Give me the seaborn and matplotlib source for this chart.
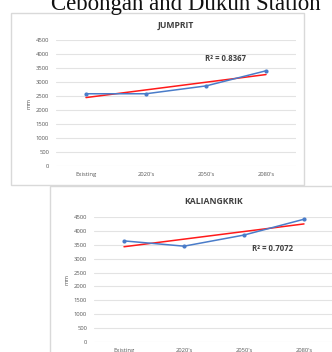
import numpy as np
import pandas as pd
import matplotlib
matplotlib.use("Agg")
import matplotlib.pyplot as plt
from matplotlib.patches import Rectangle
import seaborn as sns

# Annual rainfall (mm) per period at each station
periods = ["Existing", "2020's", "2050's", "2080's"]
jumprit_mm = [2580, 2580, 2860, 3400]
kaliangkrik_mm = [3640, 3450, 3850, 4420]
yticks = [0, 500, 1000, 1500, 2000, 2500, 3000, 3500, 4000, 4500]

W, H = 332, 352
sns.set_theme(style="white")
plt.rcParams["font.family"] = ["Open Sans", "DejaVu Sans"]

fig = plt.figure(figsize=(W / 100, H / 100), dpi=100)
fig.patch.set_facecolor("white")


def px_axes(x0, y0, x1, y1):
    """Axes from pixel box (top-left origin)."""
    return fig.add_axes([x0 / W, 1 - y1 / H, (x1 - x0) / W, (y1 - y0) / H])


def panel_box(x0, y0, x1, y1):
    fig.patches.append(Rectangle((x0 / W, 1 - y1 / H), (x1 - x0) / W, (y1 - y0) / H,
                                 transform=fig.transFigure, fill=False,
                                 edgecolor="#d9d9d9", linewidth=1.0, zorder=0))


def draw_panel(ax, values, title, r2_text, r2_xy):
    df = pd.DataFrame({"pos": np.arange(len(periods)), "mm": values})
    sns.regplot(data=df, x="pos", y="mm", ax=ax, scatter=False, ci=None,
                truncate=True, color="#ff1a1a", line_kws={"linewidth": 1.1, "zorder": 3})
    sns.lineplot(data=df, x="pos", y="mm", ax=ax, color="#4a7cc9", marker="o",
                 markersize=3, markeredgewidth=0, linewidth=1.1, zorder=4)
    ax.set_xlim(-0.5, len(periods) - 0.5)
    ax.set_ylim(0, 4500)
    ax.set_yticks(yticks)
    ax.set_yticklabels([str(v) for v in yticks])
    ax.set_xticks(range(len(periods)))
    ax.set_xticklabels(periods)
    ax.tick_params(axis="both", labelsize=4.2, colors="#595959", length=0, pad=5)
    ax.tick_params(axis="x", pad=4)
    ax.grid(axis="y", color="#e3e3e3", linewidth=0.8)
    ax.set_axisbelow(True)
    for s in ax.spines.values():
        s.set_visible(False)
    ax.set_xlabel("")
    ax.set_ylabel("mm", fontsize=4.2, color="#595959", labelpad=3)
    ax.set_title(title, fontsize=6.2, fontweight="bold", color="#404040", pad=9)
    ax.text(r2_xy[0], r2_xy[1], r2_text, fontsize=5.6, fontweight="bold",
            color="#404040", ha="center", va="center", transform=ax.transData)


# Top chart: Jumprit
panel_box(11, 13, 304, 185)
ax1 = px_axes(56, 40, 296, 166)
draw_panel(ax1, jumprit_mm, "JUMPRIT", "R² = 0.8367", (2.32, 3850))

# Bottom chart: Kaliangkrik
panel_box(50, 186, 340, 360)
ax2 = px_axes(94, 217, 334, 342)
draw_panel(ax2, kaliangkrik_mm, "KALIANGKRIK", "R² = 0.7072", (2.48, 3380))

# Caption line above the charts
fig.text(186 / W, 1 - 10 / H, "Cebongan and Dukun Station", fontsize=16.5,
         family="Liberation Serif", color="#111111", ha="center", va="baseline")

fig.savefig("out.png", dpi=100, facecolor="white")
